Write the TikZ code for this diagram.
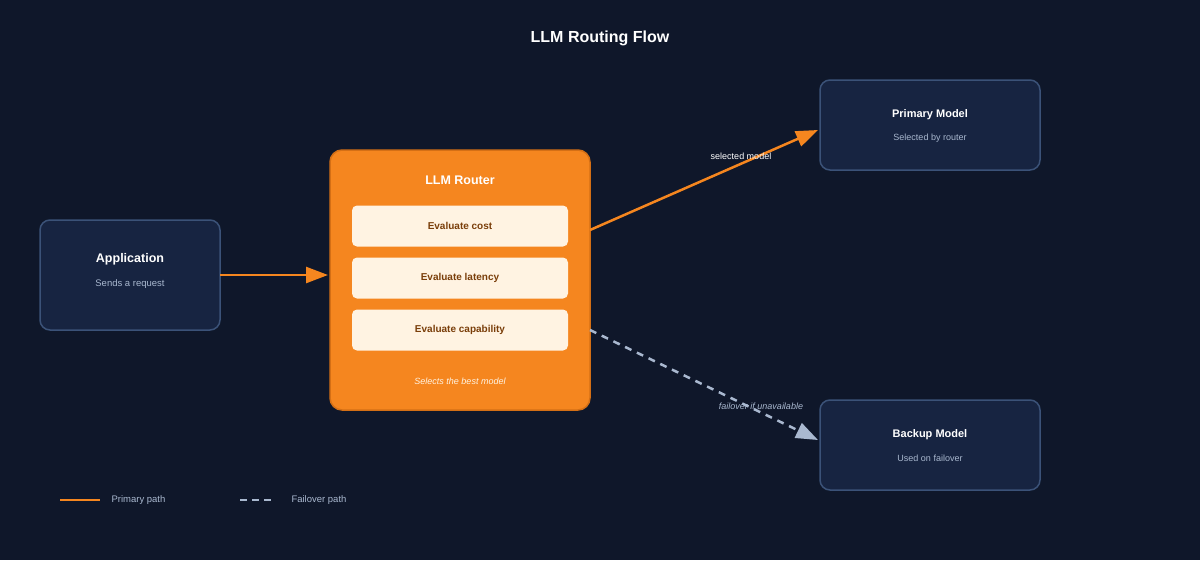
\documentclass[tikz,border=0pt]{standalone}
\usepackage{fontspec}
\setmainfont{Liberation Sans}
\usetikzlibrary{arrows.meta}
\definecolor{bg}{HTML}{0F172A}
\definecolor{boxf}{HTML}{172441}
\definecolor{boxd}{HTML}{3B5278}
\definecolor{org}{HTML}{F5861F}
\definecolor{orgd}{HTML}{D46F15}
\definecolor{cream}{HTML}{FFF3E2}
\definecolor{brown}{HTML}{7A3E0A}
\definecolor{sub}{HTML}{A9B8CF}
\tikzset{x=1pt,y=-1pt,
 box/.style={draw=boxd,line width=1.5pt,fill=boxf,rounded corners=10pt,minimum width=180pt,minimum height=110pt,inner sep=0pt},
 mbox/.style={box,minimum width=220pt,minimum height=90pt},
 inner/.style={fill=cream,rounded corners=5pt,minimum width=216pt,minimum height=41pt,inner sep=0pt,text=brown,font=\bfseries\fontsize{10}{12}\selectfont},
 ttl/.style={text=white,font=\bfseries\fontsize{12}{14}\selectfont},
 sb/.style={text=sub,font=\fontsize{9.5}{11}\selectfont},
 prim/.style={org,line width=2.5pt,-{Triangle[length=22pt,width=16pt]}},
 fail/.style={sub,line width=2.5pt,dash pattern=on 7pt off 6pt,-{Triangle[length=22pt,width=16pt]}}}
\begin{document}
\begin{tikzpicture}
\fill[bg] (0,0) rectangle (1200,560);
\useasboundingbox (0,0) rectangle (1200,560);
\node[text=white,font=\bfseries\fontsize{16}{19}\selectfont] (title) at (600,38) {LLM Routing Flow};
\node[box] (app) at (130,275) {};
\node[ttl,font=\bfseries\fontsize{12.5}{14}\selectfont] (appt) at (130,259) {Application};
\node[sb] (apps) at (130,284) {Sends a request};
\node[draw=orgd,line width=1.5pt,fill=org,rounded corners=12pt,minimum width=260pt,minimum height=260pt] (router) at (460,280) {};
\node[ttl,font=\bfseries\fontsize{12.5}{14}\selectfont] (rt) at (460,180) {LLM Router};
\node[inner] (c1) at (460,226) {Evaluate cost};
\node[inner] (c2) at (460,278) {Evaluate latency};
\node[inner] (c3) at (460,330) {Evaluate capability};
\node[text=cream,font=\itshape\fontsize{9}{11}\selectfont] (rs) at (460,381) {Selects the best model};
\node[mbox] (pm) at (930,125) {};
\node[ttl,font=\bfseries\fontsize{11}{13}\selectfont] (pmt) at (930,115) {Primary Model};
\node[sb,font=\fontsize{9}{11}\selectfont] (pms) at (930,138) {Selected by router};
\node[mbox] (bm) at (930,445) {};
\node[ttl,font=\bfseries\fontsize{11}{13}\selectfont] (bmt) at (930,435) {Backup Model};
\node[sb,font=\fontsize{9}{11}\selectfont] (bms) at (930,458) {Used on failover};
\coordinate (a1) at (220,275); \coordinate (a2) at (328,275);
\coordinate (p1) at (590,230); \coordinate (p2) at (818,130);
\coordinate (f1) at (590,330); \coordinate (f2) at (818,440);
\draw[prim] (a1) -- (a2);
\draw[prim] (p1) -- (p2);
\draw[fail] (f1) -- (f2);
\node[text=white,font=\fontsize{9}{11}\selectfont] (l1) at (741,156) {selected model};
\node[text=sub,font=\itshape\fontsize{9}{11}\selectfont] (l2) at (761,406) {failover if unavailable};
\coordinate (g1) at (60,500); \coordinate (g2) at (100,500);
\coordinate (g3) at (240,500); \coordinate (g4) at (276,500);
\draw[org,line width=2.5pt] (g1) -- (g2);
\draw[sub,line width=2.5pt,dash pattern=on 7pt off 5pt] (g3) -- (g4);
\node[sb,anchor=west,font=\fontsize{9.5}{11}\selectfont] (lg1) at (108,500) {Primary path};
\node[sb,anchor=west,font=\fontsize{9.5}{11}\selectfont] (lg2) at (288,500) {Failover path};
\end{tikzpicture}
\end{document}
